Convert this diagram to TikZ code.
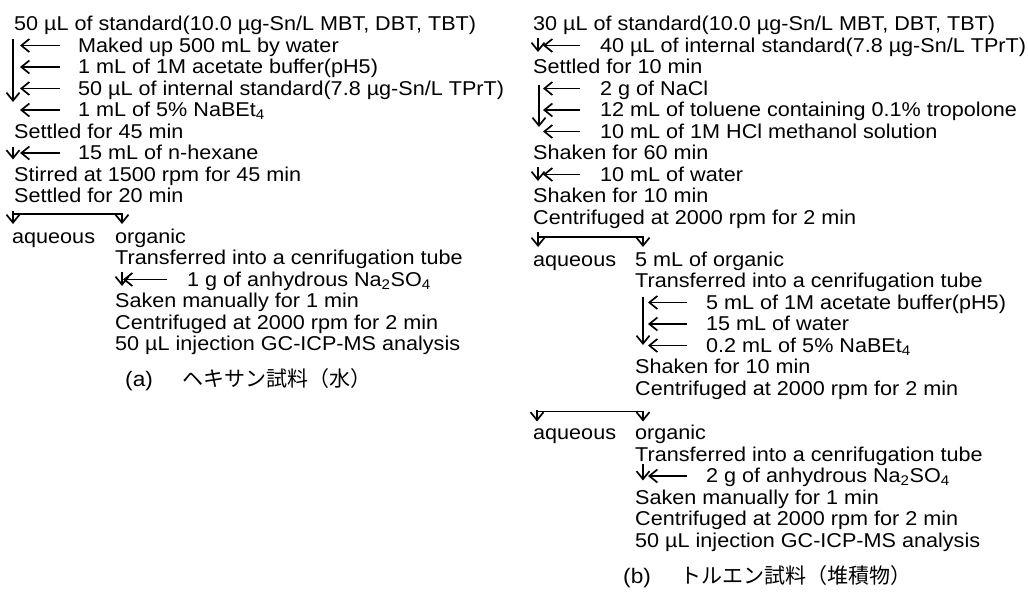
\documentclass[tikz,border=0pt]{standalone}
\usepackage{fontspec}
\setmainfont{Liberation Sans}[FakeStretch=1.08]
\newfontfamily\jpfont{Noto Sans CJK JP}
\usetikzlibrary{arrows.meta}

\begin{document}
\begin{tikzpicture}[x=1pt, y=-1pt, font=\fontsize{20}{24}\selectfont]
        % styles
        \tikzset{txt/.style={anchor=base west, inner sep=0pt}}
        \tikzset{arr/.style={-{Straight Barb[length=8pt,width=13pt,line width=1.7pt]}, line width=1.7pt}}

        \useasboundingbox (0,0) rectangle (1028,592);

        % 1. (a) hexane
        \node[txt] (a0) at (14,30.5) {50 µL of standard(10.0 µg-Sn/L MBT, DBT, TBT)};
        \node[txt] (a1) at (78,52) {Maked up 500 mL by water};
        \node[txt] (a2) at (78,73.5) {1 mL of 1M acetate buffer(pH5)};
        \node[txt] (a3) at (78,95) {50 µL of internal standard(7.8 µg-Sn/L TPrT)};
        \node[txt] (a4) at (78,116.5) {1 mL of 5\% NaBEt\textsubscript{4}};
        \node[txt] (a5) at (14,138) {Settled for 45 min};
        \node[txt] (a6) at (78,159.5) {15 mL of n-hexane};
        \node[txt] (a7) at (14,181) {Stirred at 1500 rpm for 45 min};
        \node[txt] (a8) at (14,202.5) {Settled for 20 min};
        \node[txt] (aq1) at (12,243) {aqueous};
        \node[txt] (org1) at (115,243) {organic};
        \node[txt] (a11) at (115,264.5) {Transferred into a cenrifugation tube};
        \node[txt] (a12) at (187,286) {1 g of anhydrous Na\textsubscript{2}SO\textsubscript{4}};
        \node[txt] (a13) at (115,307.5) {Saken manually for 1 min};
        \node[txt] (a14) at (115,329) {Centrifuged at 2000 rpm for 2 min};
        \node[txt] (a15) at (115,350.5) {50 µL injection GC-ICP-MS analysis};
        \node[txt] (capa) at (125,386) {\fontsize{21}{24}\selectfont(a)\hspace{30pt}{\jpfont ヘキサン試料（水）}};

        \draw[arr] ([shift={(-65,-13)}]a1.base west) -- ([shift={(-65,-14.5)}]a4.base west);
        \foreach \n in {a1,a2,a3,a4,a6}
            \draw[arr] ([shift={(-18,-6.5)}]\n.base west) -- ++(-40,0);
        \draw[arr] ([shift={(-65,-13)}]a6.base west) -- ([shift={(-65,0)}]a6.base west);
        \draw[arr] ([shift={(1,-32)}]aq1.base west) -- ([shift={(1,-19)}]aq1.base west);
        \draw[arr] ([shift={(1,-29)}]aq1.base west) -| ([shift={(7,-19)}]org1.base west);
        \draw[arr] ([shift={(-20,-6.5)}]a12.base west) -- ++(-44,0);
        \draw[arr] ([shift={(-65,-14)}]a12.base west) -- ([shift={(-65,0)}]a12.base west);

        % 2. (b) toluene
        \node[txt] (b0) at (533,30.5) {30 µL of standard(10.0 µg-Sn/L MBT, DBT, TBT)};
        \node[txt] (b1) at (600,52) {40 µL of internal standard(7.8 µg-Sn/L TPrT)};
        \node[txt] (b2) at (533,73.5) {Settled for 10 min};
        \node[txt] (b3) at (600,95) {2 g of NaCl};
        \node[txt] (b4) at (600,116.5) {12 mL of toluene containing 0.1\% tropolone};
        \node[txt] (b5) at (600,138) {10 mL of 1M HCl methanol solution};
        \node[txt] (b6) at (533,159.5) {Shaken for 60 min};
        \node[txt] (b7) at (600,181) {10 mL of water};
        \node[txt] (b8) at (533,202.5) {Shaken for 10 min};
        \node[txt] (b9) at (533,224) {Centrifuged at 2000 rpm for 2 min};
        \node[txt] (aq2) at (533,266) {aqueous};
        \node[txt] (org2) at (635,266) {5 mL of organic};
        \node[txt] (b12) at (635,287.5) {Transferred into a cenrifugation tube};
        \node[txt] (b13) at (706,309) {5 mL of 1M acetate buffer(pH5)};
        \node[txt] (b14) at (706,330.5) {15 mL of water};
        \node[txt] (b15) at (706,352) {0.2 mL of 5\% NaBEt\textsubscript{4}};
        \node[txt] (b16) at (635,373.5) {Shaken for 10 min};
        \node[txt] (b17) at (635,395) {Centrifuged at 2000 rpm for 2 min};
        \node[txt] (aq3) at (533,439.5) {aqueous};
        \node[txt] (org3) at (635,439.5) {organic};
        \node[txt] (b20) at (635,461) {Transferred into a cenrifugation tube};
        \node[txt] (b21) at (706,482.5) {2 g of anhydrous Na\textsubscript{2}SO\textsubscript{4}};
        \node[txt] (b22) at (635,504) {Saken manually for 1 min};
        \node[txt] (b23) at (635,525.5) {Centrifuged at 2000 rpm for 2 min};
        \node[txt] (b24) at (635,547) {50 µL injection GC-ICP-MS analysis};
        \node[txt] (capb) at (623,583) {\fontsize{21}{24}\selectfont(b)\hspace{30pt}{\jpfont トルエン試料（堆積物）}};

        \foreach \n in {b1,b3,b4,b5,b7}
            \draw[arr] ([shift={(-20,-6.5)}]\n.base west) -- ++(-37,0);
        \draw[arr] ([shift={(-62,-14)}]b1.base west) -- ([shift={(-62,0)}]b1.base west);
        \draw[arr] ([shift={(-61,-10)}]b3.base west) -- ([shift={(-61,-11)}]b5.base west);
        \draw[arr] ([shift={(-62,-14)}]b7.base west) -- ([shift={(-62,0)}]b7.base west);
        \draw[arr] ([shift={(5,-34)}]aq2.base west) -- ([shift={(5,-19)}]aq2.base west);
        \draw[arr] ([shift={(5,-29)}]aq2.base west) -| ([shift={(8,-19)}]org2.base west);
        \foreach \n in {b13,b14,b15,b21}
            \draw[arr] ([shift={(-19,-6.5)}]\n.base west) -- ++(-39,0);
        \draw[arr] ([shift={(-63,-12)}]b13.base west) -- ([shift={(-63,-7)}]b15.base west);
        \draw[arr] ([shift={(4,-30)}]aq3.base west) -- ([shift={(4,-18)}]aq3.base west);
        \draw[arr] ([shift={(4,-28)}]aq3.base west) -| ([shift={(8,-18)}]org3.base west);
        \draw[arr] ([shift={(-63,-19)}]b21.base west) -- ([shift={(-63,-2)}]b21.base west);
    \end{tikzpicture}
\end{document}
